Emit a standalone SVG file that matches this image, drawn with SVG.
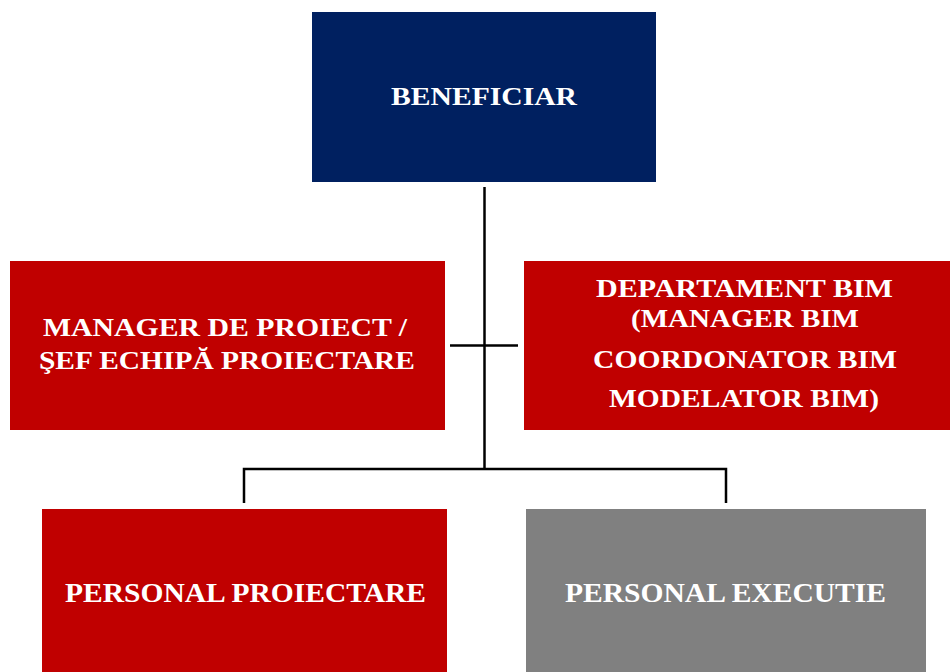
<svg xmlns="http://www.w3.org/2000/svg" width="950" height="672" viewBox="0 0 950 672">
<style>
.t{font-family:"Liberation Serif","Times New Roman",serif;font-weight:bold;font-size:26px;fill:#fff;}
.b{font-size:28px;}
.ln{stroke:#000;stroke-width:2.5;fill:none;}
</style>
<rect width="950" height="672" fill="#fff"/>
<g id="connectors">
<line class="ln" x1="484.5" y1="187" x2="484.5" y2="469"/>
<line class="ln" x1="450" y1="345.5" x2="518" y2="345.5"/>
<polyline class="ln" points="244,503 244,469 726,469 726,503"/>
</g>
<g id="beneficiar">
<rect x="312" y="12" width="344" height="170" fill="#002060"/>
<text class="t" x="391" y="105" textLength="186" lengthAdjust="spacingAndGlyphs">BENEFICIAR</text>
</g>
<g id="manager">
<rect x="10" y="261" width="435" height="169" fill="#C00000"/>
<text class="t" x="43" y="336" textLength="364" lengthAdjust="spacingAndGlyphs">MANAGER DE PROIECT /</text>
<text class="t" x="39" y="369" textLength="376" lengthAdjust="spacingAndGlyphs">ŞEF ECHIPĂ PROIECTARE</text>
</g>
<g id="departament">
<rect x="524" y="261" width="426" height="169" fill="#C00000"/>
<text class="t" x="596" y="297" textLength="297" lengthAdjust="spacingAndGlyphs">DEPARTAMENT BIM</text>
<text class="t" x="631" y="327" textLength="228" lengthAdjust="spacingAndGlyphs">(MANAGER BIM</text>
<text class="t" x="593" y="368" textLength="304" lengthAdjust="spacingAndGlyphs">COORDONATOR BIM</text>
<text class="t" x="609" y="407" textLength="270" lengthAdjust="spacingAndGlyphs">MODELATOR BIM)</text>
</g>
<g id="personal-proiectare">
<rect x="42" y="509" width="405" height="163" fill="#C00000"/>
<text class="t b" x="65" y="602" textLength="361" lengthAdjust="spacingAndGlyphs">PERSONAL PROIECTARE</text>
</g>
<g id="personal-executie">
<rect x="526" y="509" width="400" height="163" fill="#808080"/>
<text class="t b" x="565" y="602" textLength="321" lengthAdjust="spacingAndGlyphs">PERSONAL EXECUTIE</text>
</g>
</svg>
